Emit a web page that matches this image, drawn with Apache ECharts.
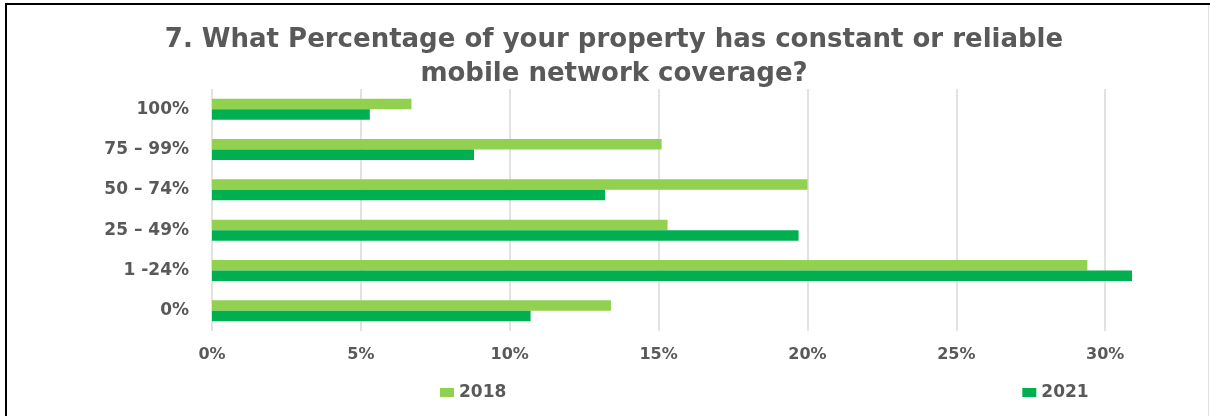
<!DOCTYPE html>
<html>
<head>
<meta charset="utf-8">
<script src="https://cdn.jsdelivr.net/npm/echarts@6/dist/echarts.min.js"></script>
<style>
  html, body { margin: 0; padding: 0; background: #fff; }
  #chart { width: 1210px; height: 416px; }
</style>
</head>
<body>
<div id="chart"></div>
<script>
// Coverage bands, listed bottom to top as the category axis draws them
const categories = ['0%', '1 -24%', '25 \u2013 49%', '50 \u2013 74%', '75 \u2013 99%', '100%'];
const seriesNames = ['2018', '2021'];
// Share of respondents (%) per coverage band
const values2018 = [13.4, 29.4, 15.3, 20.0, 15.1, 6.7];
const values2021 = [10.7, 30.9, 19.7, 13.2, 8.8, 5.3];
const xTicks = [0, 5, 10, 15, 20, 25, 30];

const titleText = '7. What Percentage of your property has constant or reliable\nmobile network coverage?';
const textGrey = '#595959';

const chart = echarts.init(document.getElementById('chart'), null, { renderer: 'canvas' });

chart.setOption({
  animation: false,
  backgroundColor: '#ffffff',
  title: {
    text: titleText,
    left: 609,
    top: 18,
    textAlign: 'center',
    textStyle: {
      fontFamily: 'DejaVu Sans',
      fontWeight: 'bold',
      fontSize: 26,
      lineHeight: 34,
      color: textGrey
    }
  },
  legend: {
    data: seriesNames,
    left: 435,
    top: 379,
    itemWidth: 14,
    itemHeight: 9,
    itemGap: 516,
    icon: 'rect',
    textStyle: {
      fontFamily: 'DejaVu Sans',
      fontWeight: 'bold',
      fontSize: 17,
      color: textGrey
    }
  },
  grid: {
    left: 212,
    top: 89,
    width: 923,
    height: 242,
    containLabel: false
  },
  xAxis: {
    type: 'value',
    min: 0,
    max: 31,
    interval: 5,
    axisLine: { show: false },
    axisTick: { show: false },
    splitLine: {
      show: true,
      showMaxLine: false,
      lineStyle: { color: '#d9d9d9', width: 1.5 }
    },
    axisLabel: {
      showMaxLabel: false,
      margin: 16,
      fontFamily: 'DejaVu Sans',
      fontWeight: 'bold',
      fontSize: 16,
      color: textGrey,
      formatter: v => (xTicks.indexOf(v) >= 0 ? v + '%' : '')
    }
  },
  yAxis: {
    type: 'category',
    data: categories,
    axisLine: { show: false },
    axisTick: { show: false },
    axisLabel: {
      margin: 23,
      fontFamily: 'DejaVu Sans',
      fontWeight: 'bold',
      fontSize: 17,
      color: textGrey
    }
  },
  series: [
    {
      name: seriesNames[0],
      type: 'bar',
      data: values2018,
      barWidth: 10.5,
      barGap: '0%',
      itemStyle: { color: '#92d050' }
    },
    {
      name: seriesNames[1],
      type: 'bar',
      data: values2021,
      barWidth: 10.5,
      barGap: '0%',
      itemStyle: { color: '#00b050' }
    }
  ],
  graphic: [
    { type: 'rect', shape: { x: 5, y: 3, width: 1210, height: 2 }, style: { fill: '#000' }, silent: true },
    { type: 'rect', shape: { x: 5, y: 3, width: 2, height: 420 }, style: { fill: '#000' }, silent: true },
    { type: 'rect', shape: { x: 1208, y: 5, width: 1, height: 420 }, style: { fill: '#e0e0e0' }, silent: true }
  ]
});
</script>
</body>
</html>
